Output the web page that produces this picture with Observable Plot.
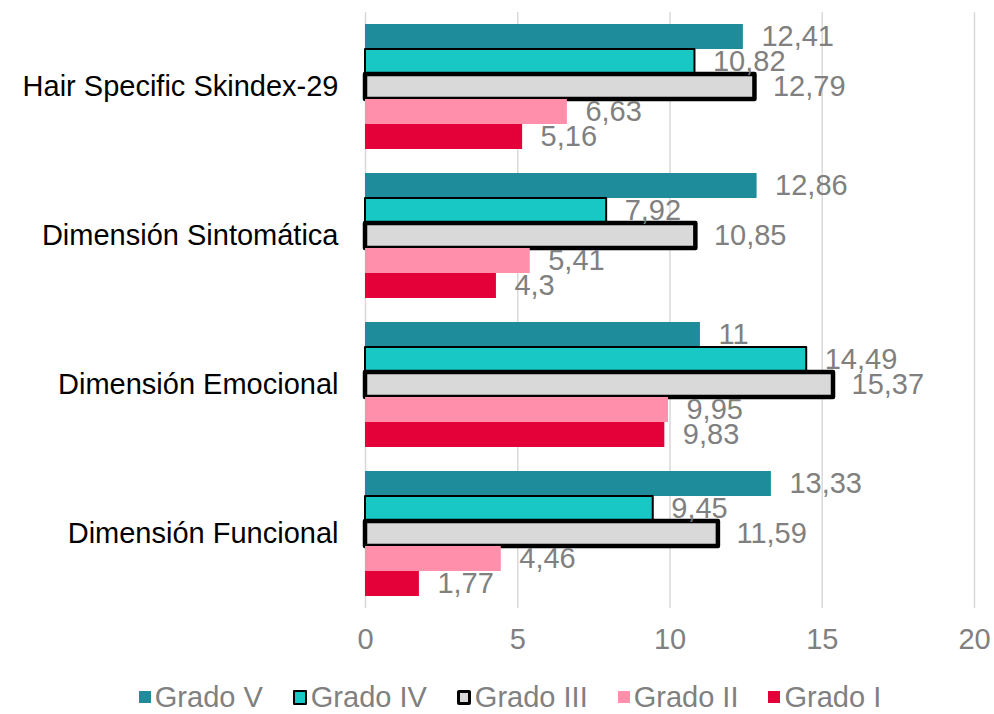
<!DOCTYPE html>
<html>
<head>
<meta charset="utf-8">
<script src="https://cdn.jsdelivr.net/npm/d3@7"></script>
<script src="https://cdn.jsdelivr.net/npm/@observablehq/plot@0.6"></script>
<style>
  body { margin: 0; background: #fff; font-family: "Liberation Sans", Arial, sans-serif; }
  #legend { display: flex; justify-content: center; align-items: center; margin-top: 14px; height: 30px; font-size: 29px; color: #808080; padding-left: 26px; }
  .item { display: flex; align-items: center; margin: 0 15px; }
  .sw { width: 12px; height: 12px; margin-right: 4px; box-sizing: border-box; }
</style>
</head>
<body>
<div id="chart"></div>
<div id="legend"></div>
<script>
const categories = ["Hair Specific Skindex-29", "Dimensión Sintomática", "Dimensión Emocional", "Dimensión Funcional"];
const grades = ["Grado V", "Grado IV", "Grado III", "Grado II", "Grado I"];
const gradoV = [12.41, 12.86, 11, 13.33];
const gradoIV = [10.82, 7.92, 14.49, 9.45];
const gradoIII = [12.79, 10.85, 15.37, 11.59];
const gradoII = [6.63, 5.41, 9.95, 4.46];
const gradoI = [5.16, 4.3, 9.83, 1.77];
const xTicks = [0, 5, 10, 15, 20];

const series = [gradoV, gradoIV, gradoIII, gradoII, gradoI];
const fills = ["#1F8C9C", "#17C8C4", "#D9D9D9", "#FF8FAB", "#E40038"];
const strokes = [null, "#000", "#000", null, null];
const strokeWidths = [0, 2, 4.5, 0, 0];

const rows = [];
grades.forEach((g, i) => categories.forEach((c, j) => rows.push({grade: g, category: c, value: series[i][j]})));
const fmt = v => String(v).replace(".", ",");

const barMarks = grades.map((g, i) => Plot.barX(rows.filter(d => d.grade === g), {
  fy: "category", y: "grade", x: "value",
  fill: fills[i],
  stroke: strokes[i] || "none",
  strokeWidth: strokeWidths[i],
  strokeLinejoin: "round"
}));

const chart = Plot.plot({
  width: 994,
  height: 668,
  marginLeft: 365,
  marginRight: 20,
  marginTop: 12,
  marginBottom: 60,
  style: {fontFamily: "'Liberation Sans', Arial, sans-serif", background: "#fff"},
  x: {domain: [0, 20]},
  y: {domain: grades, paddingInner: 0, paddingOuter: 0.48, axis: null},
  fy: {domain: categories, padding: 0},
  marks: [
    Plot.ruleX(xTicks, {stroke: "#D9D9D9", strokeWidth: 1.5}),
    ...barMarks,
    Plot.text(rows, {fy: "category", y: "grade", x: "value", text: d => fmt(d.value),
      dx: 18, textAnchor: "start", fill: "#808080", fontSize: 29}),
    Plot.axisX({ticks: xTicks, tickSize: 0, tickPadding: 20, fontSize: 29, fill: "#808080", label: null}),
    Plot.axisFy({anchor: "left", tickSize: 0, tickPadding: 27, fontSize: 29, fill: "#000", label: null})
  ]
});
document.getElementById("chart").appendChild(chart);

const legend = document.getElementById("legend");
grades.forEach((g, i) => {
  const item = document.createElement("div");
  item.className = "item";
  const sw = document.createElement("div");
  sw.className = "sw";
  sw.style.background = fills[i];
  if (strokes[i]) {
    sw.style.border = (i === 2 ? 3.5 : 2) + "px solid #000";
    sw.style.borderRadius = i === 2 ? "2px" : "1px";
    sw.style.width = "14px"; sw.style.height = "15px";
  }
  const t = document.createElement("span");
  t.textContent = g;
  item.appendChild(sw);
  item.appendChild(t);
  legend.appendChild(item);
});
</script>
</body>
</html>
